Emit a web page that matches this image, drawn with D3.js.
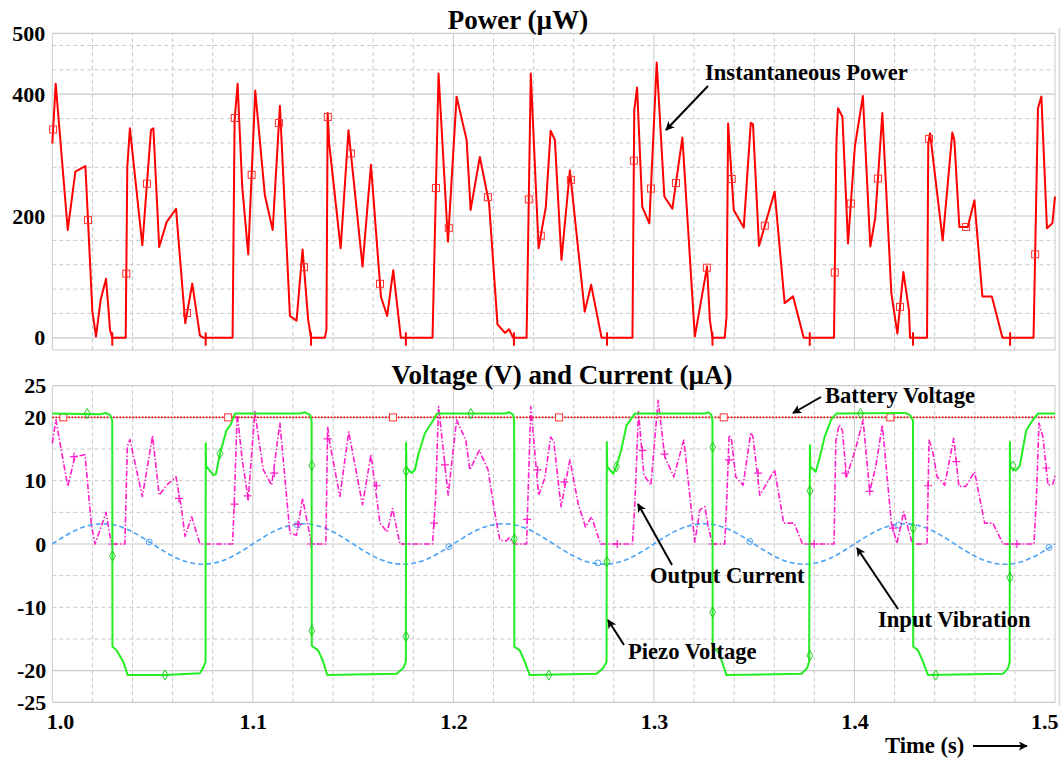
<!DOCTYPE html>
<html lang="en">
<head>
<meta charset="UTF-8" />
<title>Power, Voltage and Current</title>
<script src="https://cdn.jsdelivr.net/npm/d3@7"></script>
<style>
  body { margin: 0; background: #fff; }
  svg text { font-family: "Liberation Serif", "Times New Roman", serif; font-weight: bold; fill: #000; }
</style>
</head>
<body>
<svg id="chart" width="1061" height="759"></svg>
<script>
// ---- data ----
// instantaneous power, [time s, uW]
const powerData = [
  [1.0000,319],[1.0017,417],[1.0077,177],[1.0115,273],[1.0165,282],[1.0200,43],[1.0218,2],[1.0241,62],[1.0268,97],[1.0288,13],[1.0299,0],
  [1.0366,0],[1.0374,281],[1.0387,344],[1.0449,152],[1.0492,341],[1.0504,344],[1.0533,149],[1.0570,190],[1.0617,212],[1.0663,24],[1.0698,89],[1.0736,4],[1.0753,0],
  [1.0899,0],[1.0909,357],[1.0924,417],[1.0947,248],[1.0977,137],[1.1012,406],[1.1060,234],[1.1099,177],[1.1135,381],[1.1185,36],[1.1218,28],[1.1248,145],[1.1276,29],[1.1290,0],
  [1.1359,0],[1.1367,13],[1.1373,369],[1.1381,318],[1.1438,147],[1.1477,341],[1.1547,117],[1.1589,284],[1.1639,67],[1.1670,36],[1.1700,111],[1.1738,0],
  [1.1896,0],[1.1926,434],[1.1973,158],[1.2016,396],[1.2066,325],[1.2086,210],[1.2132,297],[1.2178,221],[1.2220,22],[1.2257,8],[1.2278,14],[1.2298,0],
  [1.2365,0],[1.2386,434],[1.2425,147],[1.2461,215],[1.2485,340],[1.2506,325],[1.2539,128],[1.2581,275],[1.2655,43],[1.2687,87],[1.2739,0],
  [1.2893,0],[1.2902,374],[1.2916,411],[1.2942,215],[1.2977,188],[1.3014,452],[1.3052,232],[1.3092,212],[1.3142,329],[1.3204,2],[1.3265,117],[1.3279,29],[1.3292,0],
  [1.3353,0],[1.3362,35],[1.3370,352],[1.3398,210],[1.3448,181],[1.3483,353],[1.3494,351],[1.3524,151],[1.3602,240],[1.3652,57],[1.3694,68],[1.3747,0],
  [1.3898,0],[1.3910,322],[1.3918,377],[1.3940,363],[1.3968,155],[1.4002,314],[1.4042,397],[1.4079,150],[1.4104,198],[1.4139,369],[1.4184,73],[1.4214,7],[1.4244,108],[1.4272,45],[1.4277,0],
  [1.4362,0],[1.4368,319],[1.4377,336],[1.4440,160],[1.4488,337],[1.4498,325],[1.4523,182],[1.4565,182],[1.4598,226],[1.4638,68],[1.4685,68],[1.4738,0],
  [1.4893,0],[1.4915,377],[1.4932,396],[1.4960,180],[1.4987,188],[1.5000,232]
];
const powerMarkTimes = [1.0004,1.0178,1.0369,1.0472,1.0672,1.0910,1.0994,1.1130,1.1255,1.1374,1.1489,1.1634,1.1913,1.1977,1.2172,
  1.2376,1.2436,1.2586,1.2900,1.2985,1.3110,1.3264,1.3388,1.3553,1.3902,1.3982,1.4117,1.4227,1.4372,1.4557,1.4901];
const powerTickTimes = [1.0299,1.0765,1.1290,1.1763,1.2302,1.2766,1.3292,1.3777,1.4292,1.4776];

// battery voltage, V
const batteryData = [[1.0,20],[1.5,20]];
const batteryMarkTimes = [1.0055,1.0877,1.1699,1.2527,1.3348,1.4179];

// input vibration, sampled every 0.0125 s
const vibTimeStep = 0.0125;
const vibValues = [0,2.3,3.2,2.3,0,-2.3,-3.2,-2.3, 0,2.3,3.2,2.3,0,-2.3,-3.2,-2.3, 0,2.3,3.2,2.3,0,-2.3,-3.2,-2.3,
  0,2.3,3.2,2.3,0,-2.3,-3.2,-2.3, 0,2.3,3.2,2.3,0,-2.3,-3.2,-2.3, 0];
const vibMarkTimes = [1.0483,1.1223,1.1977,1.2720,1.3478,1.4220,1.4970];

// piezo voltage, V
const piezoData = [
  [1.0000,20.6],[1.0240,20.5],[1.0265,20.7],[1.0288,20.4],[1.0299,19.5],[1.0300,-16.2],[1.0321,-16.8],[1.0354,-18.6],[1.0376,-20.7],[1.0562,-20.7],[1.0736,-20.4],[1.0756,-19.3],[1.0764,-18.6],
  [1.0765,15.9],[1.0767,12.3],[1.0803,10.9],[1.0816,11.0],[1.0836,14.3],[1.0869,18.0],[1.0889,18.8],[1.0911,20.6],[1.1235,20.6],[1.1260,20.8],[1.1285,20.4],[1.1293,19.5],
  [1.1294,-16.1],[1.1326,-16.8],[1.1351,-18.6],[1.1371,-20.7],[1.1717,-20.5],[1.1750,-19.6],[1.1763,-18.6],
  [1.1764,16.0],[1.1766,12.1],[1.1792,11.2],[1.1808,11.7],[1.1825,14.1],[1.1858,17.5],[1.1891,19.1],[1.1919,20.6],[1.2257,20.6],[1.2280,20.8],[1.2298,20.4],[1.2303,19.5],
  [1.2304,-16.2],[1.2331,-16.8],[1.2356,-18.6],[1.2381,-20.7],[1.2714,-20.5],[1.2747,-19.6],[1.2764,-18.6],
  [1.2765,16.1],[1.2767,12.2],[1.2797,11.1],[1.2813,12.2],[1.2838,15.0],[1.2863,18.7],[1.2905,20.6],[1.3254,20.6],[1.3270,20.8],[1.3286,20.4],[1.3292,19.5],
  [1.3293,-16.2],[1.3320,-17.0],[1.3340,-18.6],[1.3362,-20.7],[1.3736,-20.5],[1.3764,-19.6],[1.3774,-18.6],
  [1.3778,15.6],[1.3780,12.2],[1.3807,11.4],[1.3827,13.7],[1.3852,17.0],[1.3885,19.7],[1.3910,20.6],[1.4251,20.7],[1.4276,20.4],[1.4292,19.5],
  [1.4293,-16.2],[1.4317,-16.8],[1.4342,-18.6],[1.4367,-20.7],[1.4741,-20.5],[1.4766,-19.6],[1.4774,-18.6],
  [1.4775,16.1],[1.4777,12.2],[1.4804,11.6],[1.4824,12.3],[1.4857,18.0],[1.4890,19.6],[1.4915,20.6],[1.5000,20.6]
];
const piezoMarks = [[1.0174,20.6],[1.0300,-1.9],[1.0562,-20.7],[1.0836,14.3],[1.1294,12.4],[1.1294,-13.7],[1.1764,11.5],[1.1764,-14.6],
  [1.2087,20.6],[1.2304,0.8],[1.2476,-20.7],[1.2765,-2.8],[1.2813,12.2],[1.3293,15.3],[1.3293,-10.8],[1.3778,8.4],[1.3778,-17.6],
  [1.4030,20.6],[1.4293,2.5],[1.4405,-20.7],[1.4775,-5.3],[1.4790,12.3]];

// output current, uA
const currentData = [
  [1.0000,15.9],[1.0018,19.6],[1.0077,9.1],[1.0113,13.8],[1.0163,14.1],[1.0196,2.7],[1.0213,0],[1.0238,2.2],[1.0268,5.0],[1.0288,1.2],[1.0299,0],
  [1.0362,0],[1.0374,15.4],[1.0387,16.5],[1.0449,7.5],[1.0500,17.1],[1.0533,7.7],[1.0570,9.3],[1.0617,10.6],[1.0645,5.4],[1.0662,1.2],[1.0695,4.3],[1.0736,0],
  [1.0899,0],[1.0907,6.4],[1.0922,20.6],[1.0947,13.3],[1.0977,7.0],[1.1010,20.9],[1.1052,11.7],[1.1094,9.3],[1.1135,19.1],[1.1185,1.7],[1.1218,1.4],[1.1248,7.2],[1.1276,2.7],[1.1293,0],
  [1.1364,0],[1.1373,18.5],[1.1384,15.9],[1.1434,7.5],[1.1478,17.7],[1.1547,6.2],[1.1589,14.1],[1.1634,3.3],[1.1670,1.9],[1.1697,5.6],[1.1733,0],
  [1.1896,0],[1.1911,7.0],[1.1926,21.7],[1.1974,7.7],[1.2016,19.6],[1.2062,16.4],[1.2082,11.7],[1.2129,14.8],[1.2173,11.7],[1.2207,4.8],[1.2232,0.6],[1.2265,0.5],[1.2278,1.0],[1.2302,0],
  [1.2365,0],[1.2370,5.4],[1.2386,21.7],[1.2425,7.7],[1.2456,10.4],[1.2485,16.9],[1.2501,16.1],[1.2537,5.9],[1.2581,13.3],[1.2622,6.4],[1.2659,2.7],[1.2689,4.3],[1.2734,0],
  [1.2893,0],[1.2905,6.4],[1.2923,20.9],[1.2950,10.9],[1.2985,9.3],[1.3021,22.7],[1.3054,13.8],[1.3099,10.6],[1.3149,16.4],[1.3204,0.3],[1.3229,5.4],[1.3254,5.9],[1.3271,2.7],[1.3292,0],
  [1.3353,0],[1.3362,6.0],[1.3375,17.2],[1.3387,16.4],[1.3408,10.6],[1.3445,9.3],[1.3483,17.6],[1.3494,16.9],[1.3528,7.7],[1.3602,11.7],[1.3647,3.3],[1.3699,3.3],[1.3741,0],
  [1.3898,0],[1.3907,16.2],[1.3923,18.8],[1.3940,17.9],[1.3960,10.6],[1.4002,14.6],[1.4043,19.6],[1.4076,8.3],[1.4106,12.2],[1.4139,18.8],[1.4184,3.3],[1.4212,0.1],[1.4246,5.1],[1.4267,2.5],[1.4289,0],
  [1.4362,0],[1.4372,16.4],[1.4389,14.8],[1.4412,10.6],[1.4450,9.3],[1.4495,16.7],[1.4521,9.1],[1.4555,9.1],[1.4599,11.4],[1.4649,3.3],[1.4690,3.3],[1.4741,0],
  [1.4895,0],[1.4907,7.0],[1.4920,19.1],[1.4940,16.9],[1.4965,9.3],[1.4990,9.5],[1.5000,10.8]
];
const currentMarks = [[1.0108,13.8],[1.0299,0],[1.0632,7.2],[1.0909,6.3],[1.0974,7.6],[1.1107,11.2],[1.1226,3.1],[1.1290,0],[1.1373,16.6],
  [1.1617,9.2],[1.1763,0],[1.1904,3.3],[1.1958,12.5],[1.2368,3.9],[1.2420,11.7],[1.2553,9.8],[1.2817,0],[1.2943,14.8],[1.3053,14.2],
  [1.3292,0],[1.3375,13.3],[1.3520,11.2],[1.3777,0],[1.3799,0],[1.3955,11.2],[1.4076,8.3],[1.4192,2.5],[1.4367,9.2],[1.4508,13.0],
  [1.4775,0],[1.4810,0],[1.4957,12.0]];

// ticks
const timeTicks = [1.0, 1.1, 1.2, 1.3, 1.4, 1.5];
const powerTicks = [0, 200, 400, 500];
const voltTicks = [25, 20, 10, 0, -10, -20, -25];

// ---- layout ----
const svg = d3.select('#chart');
const x = d3.scaleLinear().domain([1.0, 1.5]).range([52.3, 1055]);
const yP = d3.scaleLinear().domain([-20, 500]).range([350, 33.3]);
const yV = d3.scaleLinear().domain([-25, 25]).range([702.3, 385.7]);

const gridCol = '#c9c9c9';

function drawGrid(y, y0, y1, major, minor) {
  const g = svg.append('g');
  // vertical: solid every 0.1, dashed every 0.02
  d3.range(0, 26).forEach(i => {
    const t = 1 + i * 0.02;
    g.append('line')
      .attr('x1', x(t)).attr('x2', x(t))
      .attr('y1', y(y0)).attr('y2', y(y1))
      .attr('stroke', gridCol).attr('stroke-width', 1)
      .attr('stroke-dasharray', i % 5 === 0 ? null : '4,3');
  });
  minor.forEach(v => {
    g.append('line').attr('x1', x(1)).attr('x2', x(1.5)).attr('y1', y(v)).attr('y2', y(v))
      .attr('stroke', gridCol).attr('stroke-dasharray', '4,3');
  });
  major.forEach(v => {
    g.append('line').attr('x1', x(1)).attr('x2', x(1.5)).attr('y1', y(v)).attr('y2', y(v))
      .attr('stroke', gridCol).attr('stroke-width', 1.2);
  });
}

drawGrid(yP, -20, 500, [-20, 0, 200, 400, 500], [40, 80, 120, 160, 240, 280, 320, 360, 440, 480]);
drawGrid(yV, -25, 25, [-25, -20, 0, 20, 25], [-15, -10, -5, 5, 10, 15]);

// thin light edge bar at right of image
svg.append('line').attr('x1', 1059.5).attr('x2', 1059.5).attr('y1', 28).attr('y2', 706)
  .attr('stroke', '#dddddd').attr('stroke-width', 2);

// ---- axes (labels only) ----
const axisFont = g => g.selectAll('text').style('font-size', '22px').style('font-family', '"Liberation Serif", serif').style('font-weight', 'bold');

svg.append('g').attr('transform', `translate(${x(1)},0)`)
  .call(d3.axisLeft(yP).tickValues(powerTicks).tickSize(0).tickPadding(7).tickFormat(d => String(d)))
  .call(g => g.select('.domain').remove())
  .call(axisFont);

svg.append('g').attr('transform', `translate(${x(1)},0)`)
  .call(d3.axisLeft(yV).tickValues(voltTicks).tickSize(0).tickPadding(6).tickFormat(d => String(d)))
  .call(g => g.select('.domain').remove())
  .call(axisFont);

const xAxisG = svg.append('g').attr('transform', `translate(0,${yV(-25)})`)
  .call(d3.axisBottom(x).tickValues(timeTicks).tickSize(0).tickPadding(11).tickFormat(d3.format('.1f')))
  .call(g => g.select('.domain').remove())
  .call(axisFont);
xAxisG.selectAll('.tick text')
  .attr('text-anchor', (d, i) => i === 0 ? 'start' : (i === timeTicks.length - 1 ? 'end' : 'middle'))
  .attr('dx', (d, i) => i === 0 ? -6 : (i === timeTicks.length - 1 ? 3 : 0));

// ---- helpers ----
// position a marker on a series at time t
const interp = (data, t) => {
  const i = d3.bisector(d => d[0]).left(data, t);
  if (i <= 0) return data[0][1];
  if (i >= data.length) return data[data.length - 1][1];
  const a = data[i - 1], b = data[i];
  return a[1] + (b[1] - a[1]) * (t - a[0]) / (b[0] - a[0]);
};

// ---- power panel ----
const lineP = d3.line().x(d => x(d[0])).y(d => yP(d[1]));
svg.append('path').datum(powerData).attr('d', lineP)
  .attr('fill', 'none').attr('stroke', '#ff0000').attr('stroke-width', 2).attr('stroke-linejoin', 'round');

svg.append('g').selectAll('line').data(powerTickTimes).join('line')
  .attr('x1', d => x(d)).attr('x2', d => x(d))
  .attr('y1', yP(9)).attr('y2', yP(-13))
  .attr('stroke', '#ff0000').attr('stroke-width', 2);

svg.append('g').selectAll('rect').data(powerMarkTimes).join('rect')
  .attr('x', d => x(d) - 3.5).attr('y', d => yP(interp(powerData, d)) - 3.5)
  .attr('width', 7).attr('height', 7)
  .attr('fill', 'none').attr('stroke', '#ff3030').attr('stroke-width', 1);

// ---- voltage / current panel ----
const lineV = d3.line().x(d => x(d[0])).y(d => yV(d[1]));
const curveV = d3.line().x(d => x(d[0])).y(d => yV(d[1])).curve(d3.curveNatural);

// input vibration
const vibData = vibValues.map((v, i) => [1 + i * vibTimeStep, v]);
svg.append('path').datum(vibData).attr('d', curveV)
  .attr('fill', 'none').attr('stroke', '#4aa3f5').attr('stroke-width', 1.6).attr('stroke-dasharray', '5,3');
svg.append('g').selectAll('circle').data(vibMarkTimes).join('circle')
  .attr('cx', d => x(d)).attr('cy', d => yV(interp(vibData, d)))
  .attr('r', 3).attr('fill', 'none').attr('stroke', '#4aa3f5').attr('stroke-width', 1);

// output current
svg.append('path').datum(currentData).attr('d', lineV)
  .attr('fill', 'none').attr('stroke', '#ff1ec8').attr('stroke-width', 1.6)
  .attr('stroke-dasharray', '6,2,1.5,2').attr('stroke-linejoin', 'round');
svg.append('g').selectAll('path').data(currentMarks).join('path')
  .attr('d', d => `M${x(d[0]) - 4},${yV(d[1])}h8M${x(d[0])},${yV(d[1]) - 4}v8`)
  .attr('stroke', '#ff1ec8').attr('stroke-width', 1.2);

// battery voltage
svg.append('path').datum(batteryData).attr('d', lineV)
  .attr('fill', 'none').attr('stroke', '#ff0000').attr('stroke-width', 1.6).attr('stroke-dasharray', '1.6,1.6');
svg.append('g').selectAll('rect').data(batteryMarkTimes).join('rect')
  .attr('x', d => x(d) - 3.5).attr('y', d => yV(interp(batteryData, d)) - 3.5)
  .attr('width', 7).attr('height', 7)
  .attr('fill', '#fff').attr('stroke', '#ff3030').attr('stroke-width', 1);

// piezo voltage
svg.append('path').datum(piezoData).attr('d', lineV)
  .attr('fill', 'none').attr('stroke', '#22ee22').attr('stroke-width', 2).attr('stroke-linejoin', 'round');
svg.append('g').selectAll('path').data(piezoMarks).join('path')
  .attr('transform', d => `translate(${x(d[0])},${yV(d[1])})`)
  .attr('d', d3.symbol(d3.symbolDiamond, 30))
  .attr('fill', 'none').attr('stroke', '#22cc22').attr('stroke-width', 1);

// ---- titles & annotations ----
svg.append('text').attr('x', 518).attr('y', 29).attr('text-anchor', 'middle')
  .style('font-size', '27px').text('Power (µW)');
svg.append('text').attr('x', 562).attr('y', 384).attr('text-anchor', 'middle')
  .style('font-size', '27px').text('Voltage (V) and Current (µA)');

svg.append('defs').append('marker')
  .attr('id', 'ah').attr('viewBox', '0 0 10 10').attr('refX', 9).attr('refY', 5)
  .attr('markerWidth', 9).attr('markerHeight', 9).attr('markerUnits', 'userSpaceOnUse').attr('orient', 'auto')
  .append('path').attr('d', 'M0,0L10,5L0,10L2.5,5Z').attr('fill', '#000');

const notes = [
  { text: 'Instantaneous Power', tx: 705, ty: 80, from: [708, 86], to: [666, 130] },
  { text: 'Battery Voltage', tx: 825, ty: 403, from: [821, 397], to: [793, 413] },
  { text: 'Output Current', tx: 650, ty: 583, from: [672, 565], to: [638, 504] },
  { text: 'Input Vibration', tx: 878, ty: 627, from: [898, 609], to: [857, 548] },
  { text: 'Piezo Voltage', tx: 628, ty: 659, from: [624, 645], to: [608, 620] },
  { text: 'Time (s)', tx: 885, ty: 753, from: [973, 746], to: [1027, 746] }
];
notes.forEach(n => {
  svg.append('text').attr('x', n.tx).attr('y', n.ty).style('font-size', '22.6px').text(n.text);
  svg.append('line')
    .attr('x1', n.from[0]).attr('y1', n.from[1]).attr('x2', n.to[0]).attr('y2', n.to[1])
    .attr('stroke', '#000').attr('stroke-width', 2).attr('marker-end', 'url(#ah)');
});
</script>
</body>
</html>
